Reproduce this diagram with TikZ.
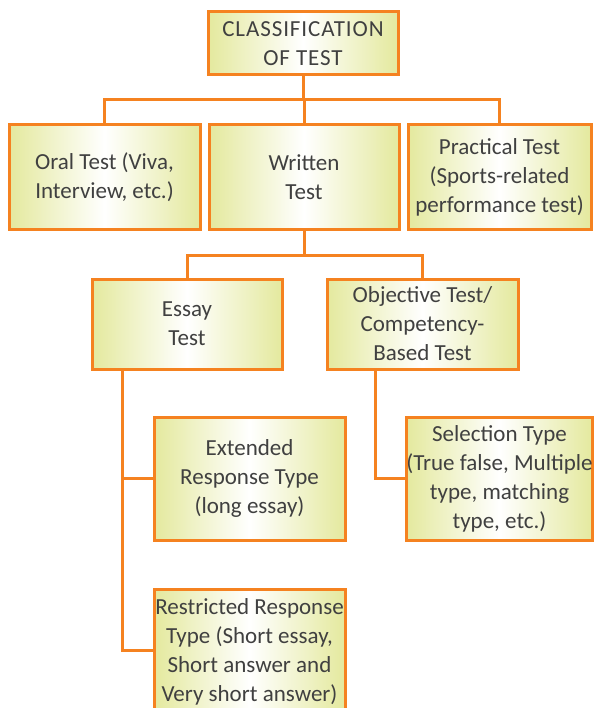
\documentclass[tikz,border=0pt]{standalone}
\usepackage{fontspec}
\setmainfont{Carlito}
\definecolor{classorange}{RGB}{245,130,32}
\definecolor{classedge}{RGB}{228,233,158}
\definecolor{classtext}{RGB}{64,64,64}
\tikzset{
  classpicture/.style={x=1pt, y=-1pt},
  classbox/.style={draw=classorange, line width=3pt, left color=classedge, right color=classedge, middle color=white, align=center, text=classtext, font=\fontsize{23}{29}\selectfont, inner sep=0pt, minimum width=190pt},
  classhead/.style={classbox, minimum height=63pt, font=\fontsize{23}{29}\selectfont\addfontfeature{LetterSpace=4}},
  classrow/.style={classbox, minimum height=105pt},
  classmid/.style={classbox, minimum height=90pt},
  classleaf/.style={classbox, minimum height=123pt},
  classlink/.style={draw=classorange, line width=3pt}
}
\begin{document}
\begin{tikzpicture}[classpicture]
\useasboundingbox (0,0) rectangle (596,708);
\clip (0,0) rectangle (596,708);
% top of the tree
\node[classhead] (cls) at (303,43.5) {CLASSIFICATION\\OF TEST};
\coordinate (bus) at (0,100);
% first level
\node[classrow, minimum width=191pt] (oral) at (104.5,177.5) {Oral Test (Viva,\\Interview, etc.)};
\node[classrow] (written) at (304,177.5) {Written\\Test};
\node[classrow, minimum width=183pt] (practical) at (499.5,177.5) {Practical Test\\(Sports-related\\performance test)};
\coordinate (split) at (0,255);
% written test
\node[classmid] (essay) at (187,324) {Essay\\Test};
\node[classmid, minimum width=191pt] (objective) at (422.5,324) {Objective Test/\\Competency-\\Based Test};
% leaves
\node[classleaf, minimum width=191pt] (extended) at (249.5,478.5) {Extended\\Response Type\\(long essay)};
\node[classleaf, minimum width=185pt] (selection) at (499.5,478.5) {Selection Type\\(True false, Multiple\\type, matching\\type, etc.)};
\node[classbox, minimum width=191pt, minimum height=126pt] (restricted) at (249.5,652) {Restricted Response\\Type (Short essay,\\Short answer and\\Very short answer)};
% connectors
\draw[classlink] (cls.south) -- (cls.south |- bus) -| (oral.north);
\draw[classlink] (cls.south |- bus) -| (written.north);
\draw[classlink] (cls.south |- bus) -| (practical.north);
\draw[classlink] (written.south) -- (written.south |- split) -| (essay.north);
\draw[classlink] (written.south |- split) -| (objective.north);
\draw[classlink] ([xshift=-65pt]essay.south) |- (extended.west);
\draw[classlink] ([xshift=-65pt]essay.south) |- ([yshift=2pt]restricted.west);
\draw[classlink] ([xshift=-47.5pt]objective.south) |- (selection.west);
\end{tikzpicture}
\end{document}
